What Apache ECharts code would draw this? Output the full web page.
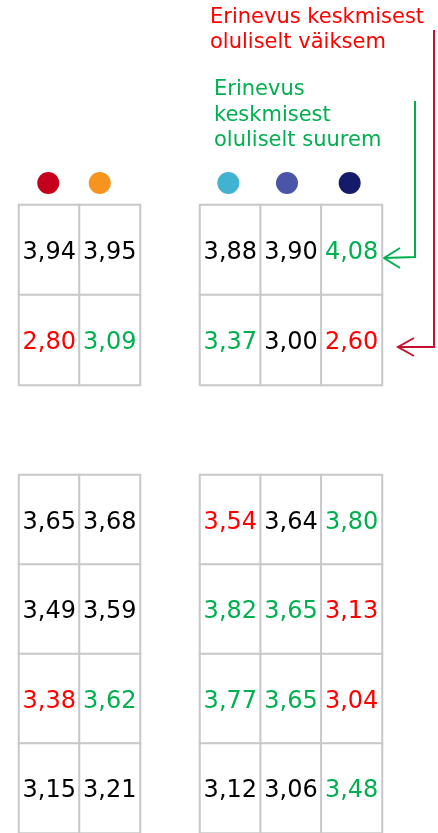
<!DOCTYPE html>
<html>
<head>
<meta charset="utf-8">
<script src="https://cdn.jsdelivr.net/npm/echarts@6/dist/echarts.min.js"></script>
<style>
html, body { margin: 0; padding: 0; background: #fff; }
#main { width: 438px; height: 833px; }
</style>
</head>
<body>
<div id="main"></div>
<script>
// värvid rühmade kaupa (täpid tabelite kohal)
var rühmA = ['a1', 'a2'];
var rühmB = ['b1', 'b2', 'b3'];
var rühmAVärvid = ['#c4001d', '#f7941d'];
var rühmBVärvid = ['#41b3d0', '#4b55a8', '#141b6a'];

// keskmised
var ülemineVasak = [[3.94, 3.95], [2.80, 3.09]];
var ülemineParem = [[3.88, 3.90, 4.08], [3.37, 3.00, 2.60]];
var alumineVasak = [[3.65, 3.68], [3.49, 3.59], [3.38, 3.62], [3.15, 3.21]];
var alumineParem = [[3.54, 3.64, 3.80], [3.82, 3.65, 3.13], [3.77, 3.65, 3.04], [3.12, 3.06, 3.48]];

// erinevus keskmisest: 1 = oluliselt suurem, -1 = oluliselt väiksem, 0 = ei ole
var ülemineVasakErin = [[0, 0], [-1, 1]];
var ülemineParemErin = [[0, 0, 1], [1, 0, -1]];
var alumineVasakErin = [[0, 0], [0, 0], [-1, 1], [0, 0]];
var alumineParemErin = [[-1, 0, 1], [1, 1, -1], [1, 1, -1], [0, 0, 1]];

var ROHELINE = '#00b050';
var PUNANE = '#ff0000';
var FONT = 'DejaVu Sans';

// täppide nihe lahtri keskpunktist (ainult stiil)
var täpiNiheA = [-1, -10];
var täpiNiheB = [-2, -4, -2];

function tekstiVärv(erin) {
	if (erin > 0) return ROHELINE;
	if (erin < 0) return PUNANE;
	return '#000000';
}

function tabeliAndmed(väärtused, erinevused) {
	var andmed = [];
	for (var r = 0; r < väärtused.length; r++) {
		for (var c = 0; c < väärtused[r].length; c++) {
			andmed.push({
				value: [c, r, väärtused[r][c]],
				label: { color: tekstiVärv(erinevused[r][c]) }
			});
		}
	}
	return andmed;
}

function ridadeNimed(n) {
	var nimed = [];
	for (var i = 0; i < n; i++) nimed.push('r' + i);
	return nimed;
}

var grids = [];
var xAxes = [];
var yAxes = [];
var series = [];

function lisaTabel(left, top, width, height, veerud, väärtused, erinevused, värvid, nihe) {
	var idx = grids.length;
	grids.push({ left: left, top: top, width: width, height: height });
	xAxes.push({ type: 'category', gridIndex: idx, data: veerud, show: false });
	yAxes.push({ type: 'category', gridIndex: idx, data: ridadeNimed(väärtused.length), inverse: true, show: false });
	series.push({
		type: 'heatmap',
		xAxisIndex: idx,
		yAxisIndex: idx,
		data: tabeliAndmed(väärtused, erinevused),
		itemStyle: { color: '#ffffff', borderColor: '#c8c8c8', borderWidth: 2 },
		label: {
			show: true,
			fontFamily: FONT,
			fontSize: 24,
			offset: [0, 3],
			formatter: function (p) { return p.value[2].toFixed(2).replace('.', ','); }
		},
		emphasis: { disabled: true },
		silent: true
	});
	if (värvid) {
		// värvitäpid veergude kohal
		series.push({
			type: 'scatter',
			xAxisIndex: idx,
			yAxisIndex: idx,
			symbolSize: 22,
			clip: false,
			z: 5,
			data: veerud.map(function (n, i) {
				return {
					value: [i, 0],
					symbolOffset: [nihe[i], -67],
					itemStyle: { color: värvid[i], opacity: 1 }
				};
			}),
			silent: true
		});
	}
}

lisaTabel(19, 205, 121, 180, rühmA, ülemineVasak, ülemineVasakErin, rühmAVärvid, täpiNiheA);
lisaTabel(200, 205, 182, 180, rühmB, ülemineParem, ülemineParemErin, rühmBVärvid, täpiNiheB);
lisaTabel(19, 475, 121, 360, rühmA, alumineVasak, alumineVasakErin);
lisaTabel(200, 475, 182, 360, rühmB, alumineParem, alumineParemErin);

function tekst(x, y, sisu, värv) {
	return {
		type: 'text',
		style: { x: x, y: y, text: sisu, fill: värv, fontFamily: FONT, fontSize: 21, verticalAlign: 'middle', align: 'left' }
	};
}

var chart = echarts.init(document.getElementById('main'));
chart.setOption({
	animation: false,
	backgroundColor: '#ffffff',
	grid: grids,
	xAxis: xAxes,
	yAxis: yAxes,
	series: series,
	graphic: [
		tekst(210, 18, 'Erinevus keskmisest', PUNANE),
		tekst(210, 43, 'oluliselt väiksem', PUNANE),
		tekst(214, 90, 'Erinevus', ROHELINE),
		tekst(214, 116, 'keskmisest', ROHELINE),
		tekst(214, 141, 'oluliselt suurem', ROHELINE),
		{
			type: 'polyline',
			shape: { points: [[434, 30], [434, 347], [398, 347]] },
			style: { stroke: '#c8102e', lineWidth: 2, fill: null }
		},
		{
			type: 'polyline',
			shape: { points: [[414, 338], [398, 347], [414, 356]] },
			style: { stroke: '#c8102e', lineWidth: 2, fill: null }
		},
		{
			type: 'polyline',
			shape: { points: [[415, 101], [415, 257], [384, 258]] },
			style: { stroke: ROHELINE, lineWidth: 2, fill: null }
		},
		{
			type: 'polyline',
			shape: { points: [[400, 248], [384, 258], [400, 268]] },
			style: { stroke: ROHELINE, lineWidth: 2, fill: null }
		}
	]
});
</script>
</body>
</html>
